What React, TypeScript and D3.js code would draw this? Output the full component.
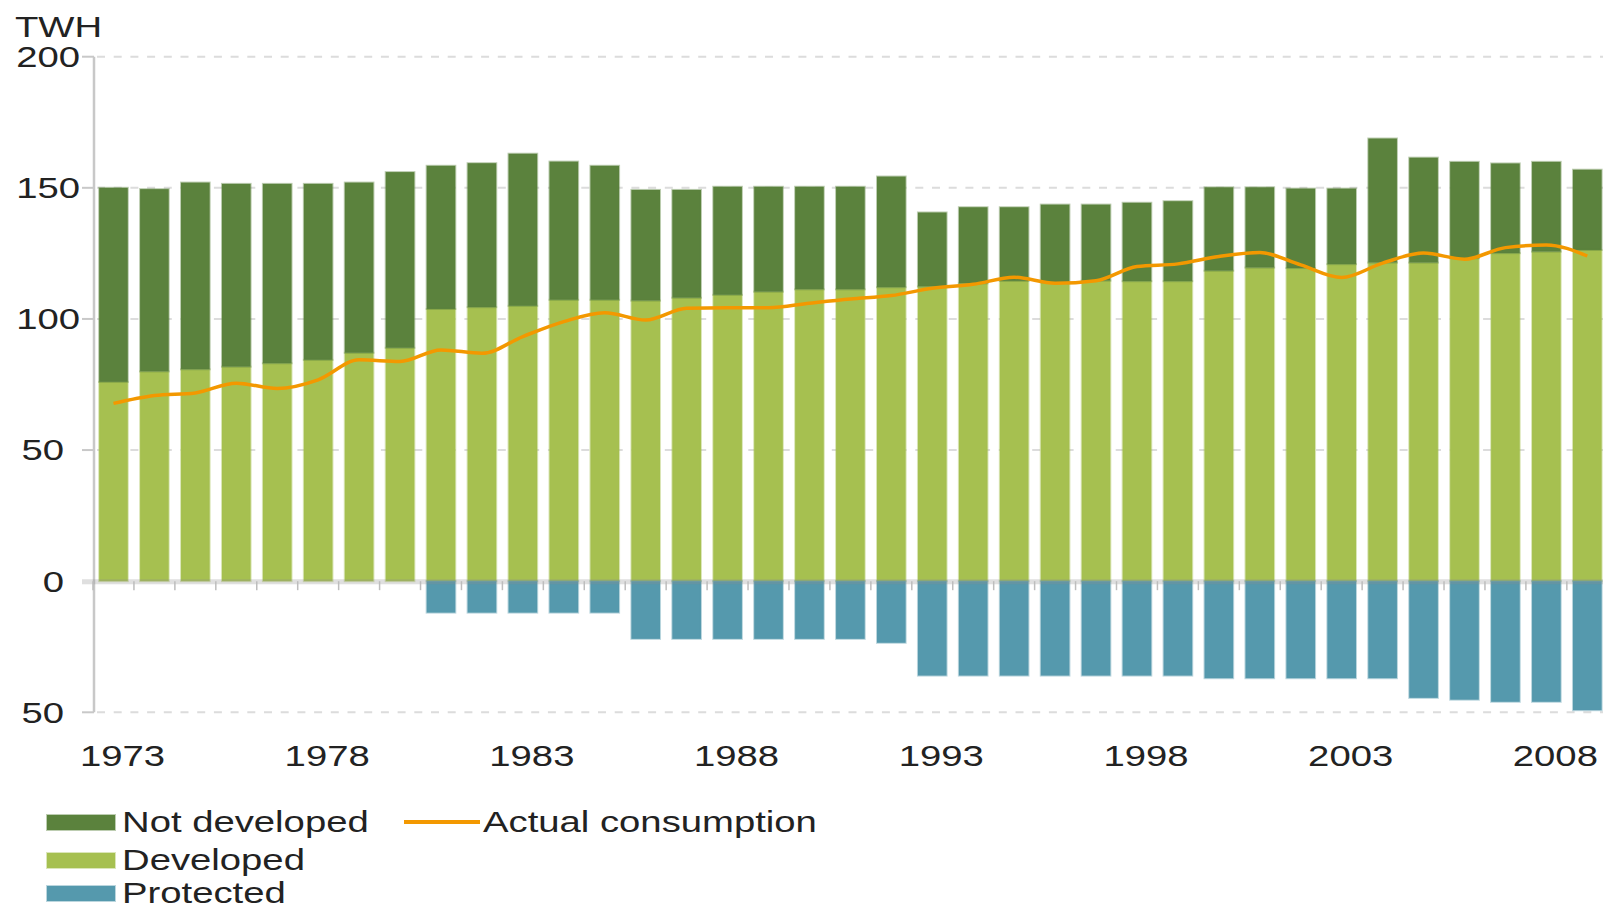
import { useEffect, useRef } from 'react'
import * as d3 from 'd3'

const years = d3.range(1973, 2010)

// TWh
const developed = [
  76, 80, 80.8, 81.8, 83.1, 84.4, 87.1, 89, 103.8, 104.5, 105, 107.3, 107.3, 107, 108.1, 109.2, 110.4, 111.3, 111.3,
  112.1, 112.4, 113.6, 114.5, 114, 114.6, 114.4, 114.4, 118.4, 119.6, 119.4, 120.9, 121.5, 121.5, 123.2, 125.1, 125.7,
  126.3,
]
const notDeveloped = [
  74, 69.5, 71.2, 69.7, 68.4, 67.1, 64.9, 67, 54.6, 54.9, 58, 52.7, 51.1, 42.2, 41.1, 41.2, 40, 39.1, 39.1, 42.2, 28.2,
  29, 28.1, 29.6, 29, 29.9, 30.5, 31.8, 30.6, 30.3, 28.8, 47.3, 40, 36.7, 34.2, 34.2, 30.6,
]
const protectedVals = [
  0, 0, 0, 0, 0, 0, 0, 0, 12, 12, 12, 12, 12, 22, 22, 22, 22, 22, 22, 23.5, 36, 36, 36, 36, 36, 36, 36, 37, 37, 37, 37,
  37, 44.5, 45.2, 46, 46, 49.2,
]
const consumption = [
  67.8, 70.8, 71.8, 75.5, 73.5, 76.8, 84.4, 83.8, 88.2, 86.9, 93.3, 99, 102.4, 99.6, 104.1, 104.3, 104.3, 106, 107.6,
  108.9, 111.7, 113.2, 115.9, 113.6, 114.6, 120, 121, 123.8, 125.3, 120.6, 115.8, 121.3, 125.1, 122.8, 127.2, 128.2, 124,
]

const yTicks = [200, 150, 100, 50, 0, -50]
const yTickLabels = ['200', '150', '100', '50', '0', '50']
const xTickYears = [1973, 1978, 1983, 1988, 1993, 1998, 2003, 2008]

const legendItems = [
  { name: 'Not developed', color: '#5b823d', row: 0, col: 0, kind: 'rect' },
  { name: 'Actual consumption', color: '#f39800', row: 0, col: 1, kind: 'line' },
  { name: 'Developed', color: '#a6c050', row: 1, col: 0, kind: 'rect' },
  { name: 'Protected', color: '#5599ad', row: 2, col: 0, kind: 'rect' },
]

const W = 1603
const H = 910
const SX = 1.32 // the source text is stretched sideways

export default function App() {
  const ref = useRef<SVGSVGElement | null>(null)

  useEffect(() => {
    const svg = d3.select(ref.current)
    svg.selectAll('*').remove()
    svg.attr('width', W).attr('height', H)
    svg.append('rect').attr('width', W).attr('height', H).attr('fill', '#fff')

    const font = '"Liberation Sans", Arial, sans-serif'
    const textColor = '#222'

    const x = d3
      .scaleBand<number>()
      .domain(years)
      .range([93, 93 + years.length * 40.94])
      .paddingInner(0.3)
      .paddingOuter(0.15)
    const y = d3.scaleLinear().domain([-50, 200]).range([712.3, 56.7])
    const step = x.step()

    const label = (
      g: d3.Selection<SVGGElement, unknown, null, undefined>,
      tx: number,
      ty: number,
      txt: string,
      anchor = 'start',
    ) =>
      g
        .append('text')
        .attr('transform', `translate(${tx},${ty}) scale(${SX},1)`)
        .attr('text-anchor', anchor)
        .attr('fill', textColor)
        .attr('font-family', font)
        .attr('font-size', 29)
        .text(txt)

    const root = svg.append('g')

    // dashed gridlines (behind bars)
    yTicks.forEach((t) => {
      if (t === 0) return
      root
        .append('line')
        .attr('x1', 97)
        .attr('x2', W)
        .attr('y1', y(t))
        .attr('y2', y(t))
        .attr('stroke', '#dcdcdc')
        .attr('stroke-width', 2)
        .attr('stroke-dasharray', '8 8.7')
      root
        .append('line')
        .attr('x1', 82)
        .attr('x2', 94)
        .attr('y1', y(t))
        .attr('y2', y(t))
        .attr('stroke', '#c8c8c8')
        .attr('stroke-width', 2)
    })

    // y axis line
    root
      .append('line')
      .attr('x1', 94)
      .attr('x2', 94)
      .attr('y1', y(200))
      .attr('y2', y(-50))
      .attr('stroke', '#c8c8c8')
      .attr('stroke-width', 2.5)

    // bars
    const bars = root.append('g')
    years.forEach((yr, i) => {
      const bx = x(yr) as number
      const bw = x.bandwidth()
      const parts = [
        { y0: 0, y1: developed[i], c: '#a6c050' },
        { y0: developed[i], y1: developed[i] + notDeveloped[i], c: '#5b823d' },
        { y0: -protectedVals[i], y1: 0, c: '#5599ad' },
      ]
      parts.forEach((p) => {
        if (p.y1 - p.y0 <= 0) return
        bars
          .append('rect')
          .attr('x', bx)
          .attr('width', bw)
          .attr('y', y(p.y1))
          .attr('height', y(p.y0) - y(p.y1))
          .attr('fill', p.c)
          .attr('stroke', p.c)
          .attr('stroke-opacity', 0.4)
          .attr('stroke-width', 2)
      })
    })

    // zero line over bars and little ticks under it
    root
      .append('line')
      .attr('x1', 82)
      .attr('x2', W)
      .attr('y1', y(0) + 0.5)
      .attr('y2', y(0) + 0.5)
      .attr('stroke', 'rgb(140,140,140)')
      .attr('stroke-opacity', 0.28)
      .attr('stroke-width', 5)
    d3.range(years.length + 1).forEach((k) => {
      const tx = 93 + k * step
      root
        .append('line')
        .attr('x1', tx)
        .attr('x2', tx)
        .attr('y1', y(0))
        .attr('y2', y(0) + 9)
        .attr('stroke', '#bdbdbd')
        .attr('stroke-width', 1.5)
    })

    // consumption line
    const line = d3
      .line<number>()
      .x((_d, i) => (x(years[i]) as number) + x.bandwidth() / 2)
      .y((d) => y(d))
      .curve(d3.curveMonotoneX)
    root
      .append('path')
      .datum(consumption)
      .attr('d', line)
      .attr('fill', 'none')
      .attr('stroke', '#f39800')
      .attr('stroke-width', 3.5)
      .attr('stroke-linejoin', 'round')

    // y tick labels
    const txt = svg.append('g')
    yTicks.forEach((t, i) => {
      const tx = Math.abs(t) >= 100 ? 80 : 64
      label(txt, tx, y(t) + 10.4, yTickLabels[i], 'end')
    })
    label(txt, 15, 37, 'TWH')

    // x tick labels
    xTickYears.forEach((yr) => {
      label(txt, (x(yr) as number) + x.bandwidth() / 2 + 9, 766, String(yr), 'middle')
    })

    // legend
    const lg = svg.append('g')
    const rowBase = [832, 870, 903]
    legendItems.forEach((it) => {
      const base = rowBase[it.row]
      if (it.kind === 'rect') {
        lg.append('rect')
          .attr('x', 47)
          .attr('y', base - 17)
          .attr('width', 68)
          .attr('height', 15)
          .attr('fill', it.color)
          .attr('stroke', it.color)
          .attr('stroke-opacity', 0.4)
          .attr('stroke-width', 2)
        label(lg, 122, base, it.name)
      } else {
        lg.append('line')
          .attr('x1', 404)
          .attr('x2', 480)
          .attr('y1', base - 10)
          .attr('y2', base - 10)
          .attr('stroke', it.color)
          .attr('stroke-width', 4)
        label(lg, 483, base, it.name)
      }
    })
  }, [])

  return <svg ref={ref} style={{ position: 'absolute', left: 0, top: 0, display: 'block' }} />
}
